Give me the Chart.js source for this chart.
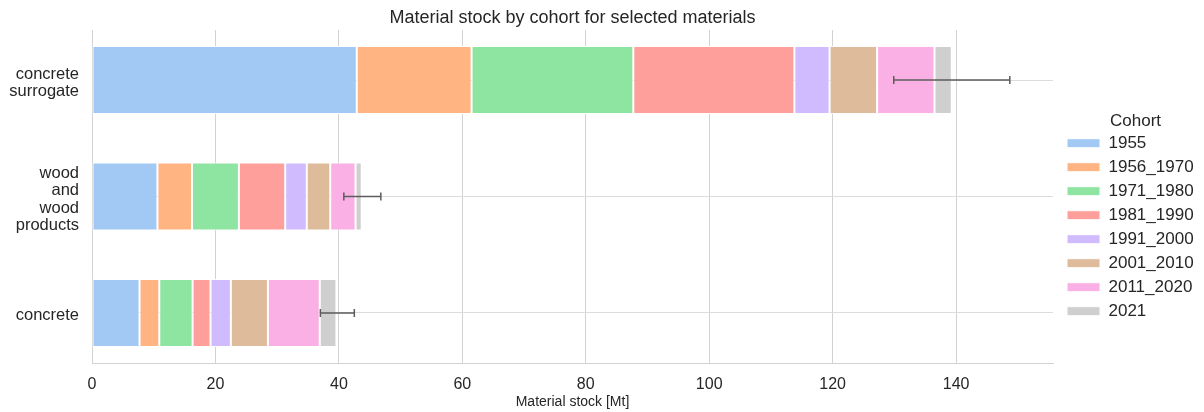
<!DOCTYPE html>
<html>
<head>
<meta charset="utf-8">
<script src="https://cdn.jsdelivr.net/npm/chart.js@4.4.0/dist/chart.umd.min.js"></script>
<style>
  html, body { margin: 0; padding: 0; background: #fff; }
</style>
</head>
<body>
<canvas id="chart" width="1204" height="412"></canvas>
<script>
// materials, top to bottom
const materials = ['concrete surrogate', 'wood and wood products', 'concrete'];
const materialLines = [['concrete', 'surrogate'], ['wood', 'and', 'wood', 'products'], ['concrete']];

const cohorts = ['1955', '1956_1970', '1971_1980', '1981_1990', '1991_2000', '2001_2010', '2011_2020', '2021'];

// material stock per cohort [Mt], in material order
const c1955 = [42.9, 10.6, 7.7];
const c1956_1970 = [18.6, 5.6, 3.2];
const c1971_1980 = [26.2, 7.6, 5.4];
const c1981_1990 = [26.1, 7.5, 2.9];
const c1991_2000 = [5.7, 3.5, 3.3];
const c2001_2010 = [7.7, 3.8, 6.0];
const c2011_2020 = [9.3, 4.1, 8.4];
const c2021 = [2.8, 1.0, 2.7];
const series = [c1955, c1956_1970, c1971_1980, c1981_1990, c1991_2000, c2001_2010, c2011_2020, c2021];

// error bar ends on the total
const errLow = [129.9, 40.8, 37.0];
const errHigh = [148.7, 46.8, 42.5];

const xTicks = [0, 20, 40, 60, 80, 100, 120, 140];

const palette = ['#a1c9f4', '#ffb482', '#8de5a1', '#ff9f9b', '#d0bbff', '#debb9b', '#fab0e4', '#cfcfcf'];

const FONT = "'Liberation Sans', Arial, sans-serif";
const TEXT = '#262626';
const GRID = '#d2d2d2';

const errorBars = {
    id: 'errorBars',
    afterDatasetsDraw(chart) {
        const {ctx, scales} = chart;
        ctx.save();
        ctx.strokeStyle = '#5c5c5c';
        ctx.lineWidth = 1.5;
        materials.forEach((m, i) => {
            const x0 = scales.x.getPixelForValue(errLow[i]);
            const x1 = scales.x.getPixelForValue(errHigh[i]);
            const yc = scales.y.getPixelForValue(i);
            ctx.beginPath();
            ctx.moveTo(x0, yc); ctx.lineTo(x1, yc);
            ctx.moveTo(x0, yc - 4); ctx.lineTo(x0, yc + 4);
            ctx.moveTo(x1, yc - 4); ctx.lineTo(x1, yc + 4);
            ctx.stroke();
        });
        ctx.restore();
    }
};

// legend sits right of the plot, plot ends at x=1053
const legendBox = {
    id: 'legendBox',
    afterInit(chart) {
        const lg = chart.legend;
        const fit = lg.fit.bind(lg);
        lg.fit = function() { fit(); this.width = 151; };
    },
    afterLayout(chart) {
        chart.legend.left += 7;
    }
};

const datasets = cohorts.map((c, k) => ({
    label: c,
    data: series[k].map((v, i) => ({x: v, y: i})),
    backgroundColor: palette[k],
    borderColor: '#ffffff',
    borderWidth: 1,
    borderSkipped: false,
    categoryPercentage: 1,
    barPercentage: 0.584
}));

new Chart(document.getElementById('chart'), {
    type: 'bar',
    data: {datasets: datasets},
    options: {
        indexAxis: 'y',
        responsive: false,
        animation: false,
        layout: {padding: 0},
        scales: {
            x: {
                type: 'linear',
                position: 'bottom',
                stacked: true,
                min: 0,
                max: 155.7,
                afterBuildTicks: s => { s.ticks = xTicks.map(v => ({value: v})); },
                afterFit: s => { s.height = 49; },
                grid: {color: GRID, drawTicks: false},
                border: {color: GRID},
                ticks: {color: TEXT, padding: 12, font: {family: FONT, size: 16}},
                title: {
                    display: true,
                    text: 'Material stock [Mt]',
                    color: TEXT,
                    font: {family: FONT, size: 14},
                    padding: {top: 0, bottom: 1}
                }
            },
            y: {
                type: 'linear',
                stacked: true,
                reverse: true,
                offset: false,
                min: -0.43,
                max: 2.43,
                afterBuildTicks: s => { s.ticks = materials.map((m, i) => ({value: i})); },
                afterFit: s => { s.width = 92; },
                grid: {color: '#dcdcdc', drawTicks: false, offset: false},
                border: {color: GRID},
                ticks: {
                    color: TEXT,
                    padding: 13,
                    labelOffset: 3,
                    font: {family: FONT, size: 16.5, lineHeight: 1.05},
                    callback: v => materialLines[v]
                }
            }
        },
        plugins: {
            title: {
                display: true,
                text: 'Material stock by cohort for selected materials',
                color: TEXT,
                fullSize: false,
                font: {family: FONT, size: 18, weight: 'normal'},
                padding: {top: 7, bottom: 1.4}
            },
            legend: {
                position: 'right',
                align: 'center',
                title: {
                    display: true,
                    text: 'Cohort',
                    color: TEXT,
                    font: {family: FONT, size: 17},
                    padding: {top: 28, bottom: -6}
                },
                labels: {
                    boxWidth: 33,
                    boxHeight: 9,
                    padding: 7,
                    color: TEXT,
                    font: {family: FONT, size: 17}
                }
            },
            tooltip: {enabled: false}
        }
    },
    plugins: [errorBars, legendBox]
});
</script>
</body>
</html>
